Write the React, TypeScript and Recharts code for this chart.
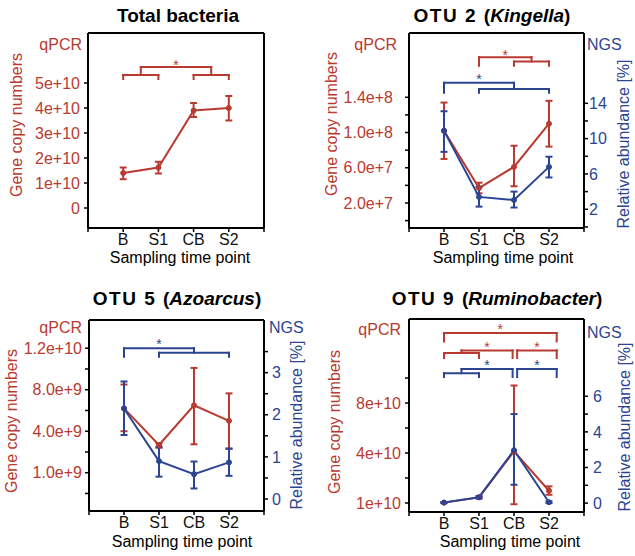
import React from 'react';
import { ComposedChart, Line, XAxis, YAxis, ErrorBar, ReferenceLine, ReferenceDot } from 'recharts';

const RED = '#b83a30';
const BLUE = '#2c4592';
const FONT = '"Liberation Sans", Arial, Helvetica, sans-serif';

const samplingPoints = ['B', 'S1', 'CB', 'S2'];

// Total bacteria (qPCR only)
const totalQpcr = [1.4e10, 1.62e10, 3.9e10, 4.0e10];
const totalQpcrLow = [1.15e10, 1.38e10, 3.64e10, 3.5e10];
const totalQpcrHigh = [1.62e10, 1.85e10, 4.2e10, 4.48e10];
const totalQpcrTicks = [0, 1e10, 2e10, 3e10, 4e10, 5e10];
const totalQpcrTickLabels = ['0', '1e+10', '2e+10', '3e+10', '4e+10', '5e+10'];

// OTU 2 (Kingella)
const otu2Qpcr = [1.02e8, 3.7e7, 6.1e7, 1.1e8];
const otu2QpcrLow = [7.0e7, 3.1e7, 3.9e7, 8.4e7];
const otu2QpcrHigh = [1.34e8, 4.3e7, 8.5e7, 1.36e8];
const otu2Ngs = [10.9, 3.4, 3.05, 6.8];
const otu2NgsLow = [8.5, 2.3, 2.2, 5.6];
const otu2NgsHigh = [13.1, 4.55, 4.0, 7.95];
const otu2QpcrTicks = [0, 2e7, 4e7, 6e7, 8e7, 1e8, 1.2e8, 1.4e8];
const otu2QpcrTickLabels = ['', '2.0e+7', '', '6.0e+7', '', '1.0e+8', '', '1.4e+8'];
const otu2NgsTicks = [0, 2, 4, 6, 8, 10, 12, 14];
const otu2NgsTickLabels = ['', '2', '', '6', '', '10', '', '14'];

// OTU 5 (Azoarcus)
const otu5Qpcr = [6.2e9, 2.67e9, 6.5e9, 5.0e9];
const otu5QpcrLow = [4.0e9, 2.4e9, 2.74e9, 2.3e9];
const otu5QpcrHigh = [8.5e9, 2.85e9, 10.1e9, 7.65e9];
const otu5Ngs = [2.15, 0.9, 0.59, 0.87];
const otu5NgsLow = [1.52, 0.53, 0.25, 0.55];
const otu5NgsHigh = [2.79, 1.24, 0.89, 1.2];
const otu5QpcrTicks = [-2e9, 0, 2e9, 4e9, 6e9, 8e9, 1e10, 1.2e10];
const otu5QpcrTickLabels = ['', '1.0e+9', '', '4.0e+9', '', '8.0e+9', '', '1.2e+10'];
const otu5NgsTicks = [0, 0.5, 1, 1.5, 2, 2.5, 3, 3.5];
const otu5NgsTickLabels = ['0', '', '1', '', '2', '', '3', ''];

// OTU 9 (Ruminobacter)
const otu9Qpcr = [0.03e10, 0.45e10, 4.13e10, 0.98e10];
const otu9QpcrLow = [0.01e10, 0.4e10, -0.1e10, 0.66e10];
const otu9QpcrHigh = [0.05e10, 0.5e10, 9.4e10, 1.33e10];
const otu9Ngs = [0.03, 0.33, 2.97, 0.05];
const otu9NgsLow = [0.0, 0.25, 1.03, 0.0];
const otu9NgsHigh = [0.06, 0.4, 5.0, 0.1];
const otu9QpcrTicks = [0, 2e10, 4e10, 6e10, 8e10, 1e11];
const otu9QpcrTickLabels = ['1e+10', '', '4e+10', '', '8e+10', ''];
const otu9NgsTicks = [0, 1, 2, 3, 4, 5, 6];
const otu9NgsTickLabels = ['0', '', '2', '', '4', '', '6'];

// significance brackets (x in sampling index, levels in axis units)
const totalBrackets = [
  { axis: 'left', a: [0, 1], b: [2, 3], top: 5.64e10, low: 5.32e10, end: 5.16e10, star: 5.84e10 },
];
const otu2Brackets = [
  { axis: 'left', a: [1, 1], b: [2, 3], top: 1.856e8, low: 1.806e8, end: 1.757e8, star: 1.919e8 },
  { axis: 'right', a: [0, 0], b: [1, 3], top: 16.33, low: 15.62, end: 15.2, star: 17.09 },
];
const otu5Brackets = [
  { axis: 'right', a: [0, 0], b: [1, 3], top: 3.58, low: 3.475, end: 3.38, star: 3.74 },
];
const otu9Brackets = [
  { axis: 'left', a: [0, 0], b: [3.22, 3.22], top: 13.6e10, low: 13.6e10, end: 12.93e10, star: 14.18e10 },
  { axis: 'left', a: [0, 1], b: [1.96, 1.96], top: 12.21e10, low: 12.0e10, end: 11.6e10, star: 12.72e10 },
  { axis: 'left', a: [2.09, 2.09], b: [3.22, 3.22], top: 12.21e10, low: 12.0e10, end: 11.6e10, star: 12.72e10 },
  { axis: 'right', a: [0, 1], b: [1.96, 1.96], top: 7.53, low: 7.3, end: 7.08, star: 7.9 },
  { axis: 'right', a: [2.09, 2.09], b: [3.22, 3.22], top: 7.53, low: 7.3, end: 7.08, star: 7.9 },
];

const buildRows = (q, qLow, qHigh, n?, nLow?, nHigh?) =>
  q.map((v, i) => ({
    x: i,
    q: v,
    qErr: [v - qLow[i], qHigh[i] - v],
    n: n ? n[i] : null,
    nErr: n ? [n[i] - nLow[i], nHigh[i] - n[i]] : null,
  }));

const bracketParts = (b) => {
  const segs = [];
  const group = (g) => {
    const [x0, x1] = g;
    if (x0 === x1) {
      segs.push([{ x: x0, y: b.top }, { x: x0, y: b.end }]);
      return x0;
    }
    const m = (x0 + x1) / 2;
    segs.push([{ x: x0, y: b.low }, { x: x1, y: b.low }]);
    segs.push([{ x: x0, y: b.low }, { x: x0, y: b.end }]);
    segs.push([{ x: x1, y: b.low }, { x: x1, y: b.end }]);
    segs.push([{ x: m, y: b.low }, { x: m, y: b.top }]);
    return m;
  };
  const ma = group(b.a);
  const mb = group(b.b);
  segs.push([{ x: ma, y: b.top }, { x: mb, y: b.top }]);
  return { segs, starX: (ma + mb) / 2 };
};

const Txt = ({ x, y, anchor = 'middle', rotate = false, color = '#000', size = 16, bold = false, children }: any) => {
  const tx = anchor === 'middle' ? '-50%' : anchor === 'end' ? '-100%' : '0';
  return (
    <div
      style={{
        position: 'absolute',
        left: x,
        top: y,
        transform: `translate(${tx}, -50%)${rotate ? ' rotate(-90deg)' : ''}`,
        color,
        fontSize: size,
        fontWeight: bold ? 700 : 400,
        whiteSpace: 'nowrap',
        lineHeight: 1,
      }}
    >
      {children}
    </div>
  );
};

const Panel = ({ p }: any) => {
  const axisLine = { stroke: '#000', strokeWidth: 2 };
  const tickLine = { stroke: '#000', strokeWidth: 1.5 };
  const leftLabel = (v) => p.leftLabels[p.leftTicks.indexOf(v)] ?? '';
  const rightLabel = (v) => (p.rightTicks ? p.rightLabels[p.rightTicks.indexOf(v)] ?? '' : '');
  return (
    <div style={{ position: 'absolute', left: p.left, top: p.top }}>
      <ComposedChart width={p.width} height={p.height} data={p.rows} margin={p.margin}>
        <XAxis
          dataKey="x"
          type="number"
          domain={[-1, 4]}
          ticks={[-1, 0, 1, 2, 3, 4]}
          tickFormatter={(v) => samplingPoints[v] ?? ''}
          allowDataOverflow
          interval={0}
          height={30}
          tickSize={4}
          tickMargin={2}
          axisLine={axisLine}
          tickLine={tickLine}
          tick={{ fill: '#111', fontSize: 16 }}
        />
        <YAxis
          yAxisId="left"
          type="number"
          domain={p.leftDomain}
          ticks={p.leftTicks}
          tickFormatter={leftLabel}
          allowDataOverflow
          interval={0}
          width={p.leftW}
          tickSize={4}
          tickMargin={p.leftTickMargin}
          axisLine={axisLine}
          tickLine={tickLine}
          tick={{ fill: RED, fontSize: 16 }}
        />
        <YAxis
          yAxisId="right"
          orientation="right"
          type="number"
          domain={p.rightDomain}
          ticks={p.rightTicks ?? []}
          tickFormatter={rightLabel}
          allowDataOverflow
          interval={0}
          width={p.rightW}
          tickSize={p.rightTicks ? 4 : 0}
          tickMargin={p.rightTickMargin}
          axisLine={axisLine}
          tickLine={p.rightTicks ? tickLine : false}
          tick={{ fill: BLUE, fontSize: 16 }}
        />
        <ReferenceLine yAxisId="left" y={p.leftDomain[1]} stroke="#000" strokeWidth={2} ifOverflow="visible" />
        {p.brackets.flatMap((b, bi) => {
          const color = b.axis === 'left' ? RED : BLUE;
          const { segs, starX } = bracketParts(b);
          return [
            ...segs.map((s, si) => (
              <ReferenceLine
                key={`b${bi}-${si}`}
                yAxisId={b.axis}
                segment={s}
                stroke={color}
                strokeWidth={2}
                strokeLinecap="square"
                ifOverflow="visible"
              />
            )),
            <ReferenceDot
              key={`s${bi}`}
              yAxisId={b.axis}
              x={starX}
              y={b.star}
              r={0}
              ifOverflow="visible"
              shape={(d: any) => (
                <text x={d.cx} y={d.cy + 8} textAnchor="middle" fontSize={14} fill={color}>
                  *
                </text>
              )}
            />,
          ];
        })}
        <Line
          yAxisId="left"
          dataKey="q"
          stroke={RED}
          strokeWidth={2}
          dot={{ r: 2.5, fill: RED, stroke: RED, strokeWidth: 1 }}
          isAnimationActive={false}
        >
          <ErrorBar dataKey="qErr" direction="y" width={3.5} stroke={RED} strokeWidth={2} />
        </Line>
        {p.hasNgs && (
          <Line
            yAxisId="right"
            dataKey="n"
            stroke={BLUE}
            strokeWidth={2}
            dot={{ r: 2.5, fill: BLUE, stroke: BLUE, strokeWidth: 1 }}
            isAnimationActive={false}
          >
            <ErrorBar dataKey="nErr" direction="y" width={3.5} stroke={BLUE} strokeWidth={2} />
          </Line>
        )}
      </ComposedChart>
    </div>
  );
};

const panels = [
  {
    left: 0, top: 0, width: 318, height: 278,
    margin: { top: 33, right: 4, bottom: 20, left: 0 },
    leftW: 88, rightW: 50, leftTickMargin: 4, rightTickMargin: 2,
    leftDomain: [-0.8e10, 7e10], leftTicks: totalQpcrTicks, leftLabels: totalQpcrTickLabels,
    rightDomain: [0, 1], rightTicks: null, rightLabels: null,
    rows: buildRows(totalQpcr, totalQpcrLow, totalQpcrHigh), hasNgs: false,
    brackets: totalBrackets,
  },
  {
    left: 315, top: 0, width: 320, height: 278,
    margin: { top: 33, right: 1, bottom: 20, left: 0 },
    leftW: 94, rightW: 50, leftTickMargin: 12, rightTickMargin: 1,
    leftDomain: [-0.84e7, 2.13e8], leftTicks: otu2QpcrTicks, leftLabels: otu2QpcrTickLabels,
    rightDomain: [-0.12, 21.96], rightTicks: otu2NgsTicks, rightLabels: otu2NgsTickLabels,
    rows: buildRows(otu2Qpcr, otu2QpcrLow, otu2QpcrHigh, otu2Ngs, otu2NgsLow, otu2NgsHigh), hasNgs: true,
    brackets: otu2Brackets,
  },
  {
    left: 0, top: 275, width: 318, height: 281,
    margin: { top: 45, right: 4, bottom: 15, left: 0 },
    leftW: 89, rightW: 50, leftTickMargin: 3, rightTickMargin: 4,
    leftDomain: [-3.69e9, 1.472e10], leftTicks: otu5QpcrTicks, leftLabels: otu5QpcrTickLabels,
    rightDomain: [-0.285, 4.25], rightTicks: otu5NgsTicks, rightLabels: otu5NgsTickLabels,
    rows: buildRows(otu5Qpcr, otu5QpcrLow, otu5QpcrHigh, otu5Ngs, otu5NgsLow, otu5NgsHigh), hasNgs: true,
    brackets: otu5Brackets,
  },
  {
    left: 315, top: 275, width: 320, height: 281,
    margin: { top: 44, right: 1, bottom: 14, left: 0 },
    leftW: 94, rightW: 50, leftTickMargin: 4, rightTickMargin: 5,
    leftDomain: [-0.72e10, 14.72e10], leftTicks: otu9QpcrTicks, leftLabels: otu9QpcrTickLabels,
    rightDomain: [-0.5, 10.34], rightTicks: otu9NgsTicks, rightLabels: otu9NgsTickLabels,
    rows: buildRows(otu9Qpcr, otu9QpcrLow, otu9QpcrHigh, otu9Ngs, otu9NgsLow, otu9NgsHigh), hasNgs: true,
    brackets: otu9Brackets,
  },
];

const OTU = ({ n }: any) => <span style={{ letterSpacing: 1.5 }}>OTU {n} </span>;

export default function App() {
  return (
    <div
      style={{
        position: 'absolute', left: 0, top: 0, width: 635, height: 556,
        background: '#fff', fontFamily: FONT, overflow: 'hidden',
      }}
    >
      {panels.map((p, i) => <Panel key={i} p={p} />)}

      <Txt x={178} y={15} size={19} bold>Total bacteria</Txt>
      <Txt x={492} y={15} size={19} bold><OTU n={2} />(<i>Kingella</i>)</Txt>
      <Txt x={177} y={298} size={19} bold><OTU n={5} />(<i>Azoarcus</i>)</Txt>
      <Txt x={497} y={298} size={19} bold><OTU n={9} />(<i>Ruminobacter</i>)</Txt>

      <Txt x={82} y={45} anchor="end" color={RED}>qPCR</Txt>
      <Txt x={397} y={45} anchor="end" color={RED}>qPCR</Txt>
      <Txt x={82} y={328} anchor="end" color={RED}>qPCR</Txt>
      <Txt x={401} y={330} anchor="end" color={RED}>qPCR</Txt>
      <Txt x={587} y={45} anchor="start" color={BLUE}>NGS</Txt>
      <Txt x={269} y={328} anchor="start" color={BLUE}>NGS</Txt>
      <Txt x={587} y={333} anchor="start" color={BLUE}>NGS</Txt>

      <Txt x={17} y={125} rotate color={RED}>Gene copy numbers</Txt>
      <Txt x={332} y={124} rotate color={RED}>Gene copy numbers</Txt>
      <Txt x={12} y={421} rotate color={RED}>Gene copy numbers</Txt>
      <Txt x={335} y={422} rotate color={RED}>Gene copy numbers</Txt>
      <Txt x={624} y={144} rotate color={BLUE}>Relative abundance [%]</Txt>
      <Txt x={297} y={425} rotate color={BLUE}>Relative abundance [%]</Txt>
      <Txt x={625} y={427} rotate color={BLUE}>Relative abundance [%]</Txt>

      <Txt x={180} y={258}>Sampling time point</Txt>
      <Txt x={503} y={258}>Sampling time point</Txt>
      <Txt x={182} y={542}>Sampling time point</Txt>
      <Txt x={510} y={542}>Sampling time point</Txt>
    </div>
  );
}
